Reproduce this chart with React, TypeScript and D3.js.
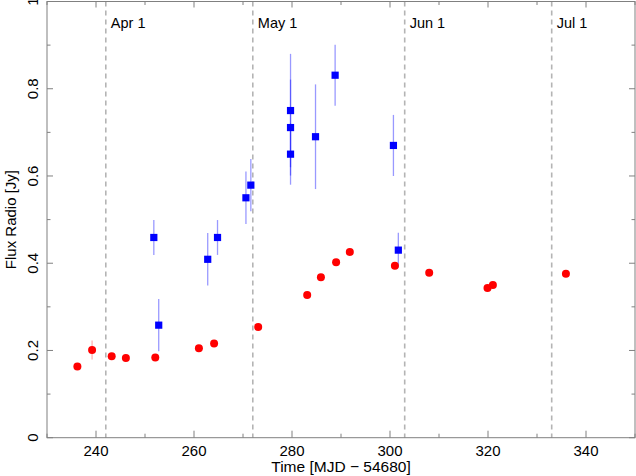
import React from "react";
import * as d3 from "d3";

const redX = [236.2, 239.2, 243.2, 246.1, 252.1, 261.0, 264.1, 273.1, 283.1, 285.9, 289.0, 291.8, 301.0, 308.0, 319.9, 321.0, 335.9];
const redY = [0.163, 0.201, 0.187, 0.183, 0.184, 0.205, 0.216, 0.254, 0.327, 0.368, 0.402, 0.426, 0.394, 0.378, 0.343, 0.35, 0.376];
const redErr = [0.005, 0.022, 0.005, 0.005, 0.005, 0.005, 0.005, 0.005, 0.005, 0.005, 0.005, 0.005, 0.005, 0.005, 0.005, 0.005, 0.005];

const blueX = [251.8, 252.8, 262.8, 264.8, 270.6, 271.6, 279.7, 279.7, 279.7, 284.8, 288.8, 300.7, 301.7];
const blueY = [0.459, 0.258, 0.409, 0.459, 0.55, 0.579, 0.75, 0.711, 0.65, 0.69, 0.831, 0.67, 0.43];
const blueErr = [0.04, 0.06, 0.06, 0.04, 0.06, 0.06, 0.13, 0.11, 0.07, 0.12, 0.07, 0.07, 0.04];

const monthDays = [242, 272, 303, 333];
const monthLabels = ["Apr 1", "May 1", "Jun 1", "Jul 1"];

const xTicks = [240, 260, 280, 300, 320, 340];
const xMinor = [230, 250, 270, 290, 310, 330, 350];
const yTicks = [0, 0.2, 0.4, 0.6, 0.8, 1];
const yMinor = [0.1, 0.3, 0.5, 0.7, 0.9];

const W = 636;
const H = 476;
const L = 47, R = 635, T = 1.5, B = 437.7;
const font = "'Liberation Sans', Arial, Helvetica, sans-serif";
const axisColor = "#808080";

export default function App() {
  const x = d3.scaleLinear().domain([230, 350]).range([L, R]);
  const y = d3.scaleLinear().domain([0, 1]).range([B, T]);
  const fmtY = (v: number) => (v === 0 || v === 1 ? String(v) : d3.format(".1f")(v));

  return (
    <svg width={W} height={H} style={{ position: "absolute", left: 0, top: 0, display: "block", background: "#fff" }} fontFamily={font}>
      {monthDays.map((d, i) => (
        <g key={"m" + i}>
          <line x1={x(d)} x2={x(d)} y1={T} y2={B} stroke="#b4b4b4" strokeWidth={1.6} strokeDasharray="5,4" />
          <text x={x(d) + 5} y={28} fontSize={14.5} fill="#000">{monthLabels[i]}</text>
        </g>
      ))}

      <rect x={L} y={T} width={R - L} height={B - T} fill="none" stroke={axisColor} strokeWidth={1} />

      {xTicks.map((t) => (
        <g key={"xt" + t}>
          <line x1={x(t)} x2={x(t)} y1={B} y2={B - 7} stroke={axisColor} />
          <line x1={x(t)} x2={x(t)} y1={T} y2={T + 6} stroke={axisColor} />
          <text x={x(t)} y={455.5} textAnchor="middle" fontSize={15} fill="#000">{t}</text>
        </g>
      ))}
      {xMinor.map((t) => (
        <g key={"xm" + t}>
          <line x1={x(t)} x2={x(t)} y1={B} y2={B - 4} stroke={axisColor} />
          <line x1={x(t)} x2={x(t)} y1={T} y2={T + 3.5} stroke={axisColor} />
        </g>
      ))}

      {yTicks.map((t) => (
        <g key={"yt" + t}>
          <line x1={L} x2={L + 6} y1={y(t)} y2={y(t)} stroke={axisColor} />
          <line x1={R} x2={R - 6} y1={y(t)} y2={y(t)} stroke={axisColor} />
          <text transform={`translate(38,${y(t)}) rotate(-90)`} textAnchor="middle" fontSize={15} fill="#000">{fmtY(t)}</text>
        </g>
      ))}
      {yMinor.map((t) => (
        <g key={"ym" + t}>
          <line x1={L} x2={L + 3.5} y1={y(t)} y2={y(t)} stroke={axisColor} />
          <line x1={R} x2={R - 3.5} y1={y(t)} y2={y(t)} stroke={axisColor} />
        </g>
      ))}

      <text x={(L + R) / 2} y={472} textAnchor="middle" fontSize={15.5} fill="#000">Time [MJD − 54680]</text>
      <text transform={`translate(15.5,${(T + B) / 2}) rotate(-90)`} textAnchor="middle" fontSize={15} fill="#000">Flux Radio [Jy]</text>

      {redX.map((v, i) => (
        <line key={"re" + i} x1={x(v)} x2={x(v)} y1={y(redY[i] - redErr[i])} y2={y(redY[i] + redErr[i])} stroke="#ff0000" strokeOpacity={0.3} strokeWidth={1.3} />
      ))}
      {blueX.map((v, i) => (
        <line key={"be" + i} x1={x(v)} x2={x(v)} y1={y(blueY[i] - blueErr[i])} y2={y(blueY[i] + blueErr[i])} stroke="#0000ff" strokeOpacity={0.4} strokeWidth={1.3} />
      ))}

      {redX.map((v, i) => (
        <circle key={"r" + i} cx={x(v)} cy={y(redY[i])} r={4} fill="#ff0000" />
      ))}
      {blueX.map((v, i) => (
        <rect key={"b" + i} x={x(v) - 3.6} y={y(blueY[i]) - 3.6} width={7.2} height={7.2} fill="#0000ff" />
      ))}
    </svg>
  );
}
